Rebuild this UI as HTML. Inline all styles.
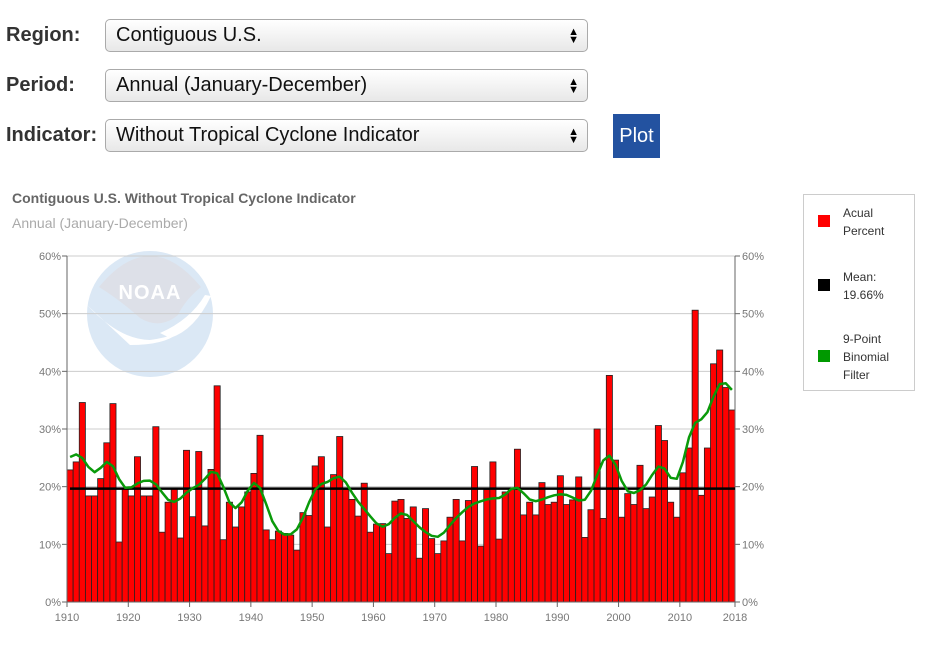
<!DOCTYPE html>
<html><head><meta charset="utf-8"><style>
body{margin:0;width:926px;height:645px;background:#fff;font-family:"Liberation Sans",sans-serif;position:relative;overflow:hidden}
.lab{position:absolute;left:6px;font-size:20px;color:#333;font-weight:bold;letter-spacing:0}
.sel{position:absolute;left:105px;width:481px;height:31px;border:1px solid #aaa;border-radius:5px;background:linear-gradient(#fff,#e8e8e8);font-size:20px;color:#111;line-height:31px;padding-left:10px;box-sizing:border-box;width:483px;height:33px}
.arr{position:absolute;right:8px;top:0;font-size:11px;line-height:8px;padding-top:8px;color:#000}
.btn{position:absolute;left:613px;top:114px;width:47px;height:44px;background:#2352a0;color:#fff;font-size:20px;line-height:44px;text-align:center}
</style></head><body>
<div class="lab" style="top:24px">Region:</div>
<div class="sel" style="top:19px">Contiguous U.S.<div class="arr">▲<br>▼</div></div>
<div class="lab" style="top:74px">Period:</div>
<div class="sel" style="top:69px">Annual (January-December)<div class="arr">▲<br>▼</div></div>
<div class="lab" style="top:124px">Indicator:</div>
<div class="sel" style="top:119px">Without Tropical Cyclone Indicator<div class="arr">▲<br>▼</div></div>
<div class="btn">Plot</div>
<svg id="c" width="926" height="645" style="position:absolute;left:0;top:0" xmlns="http://www.w3.org/2000/svg" font-family="Liberation Sans, sans-serif"></svg>
<script>
var v=[22.9,24.3,34.6,18.4,18.4,21.4,27.6,34.4,10.4,19.7,18.4,25.2,18.4,18.4,30.4,12.1,17.3,19.6,11.1,26.3,14.8,26.1,13.2,23.0,37.5,10.8,17.3,13.0,16.5,19.1,22.3,28.9,12.5,10.8,12.3,11.9,11.6,9.0,15.5,15.0,23.6,25.2,13.0,22.1,28.7,
19.5,17.8,14.9,20.6,12.1,13.5,13.6,8.4,17.5,17.8,14.5,16.5,7.6,16.2,11.0,8.4,10.6,14.7,17.8,10.6,17.6,23.5,9.7,19.5,24.3,10.9,19.1,19.6,26.5,15.1,17.3,
15.1,20.7,16.9,17.3,21.9,16.9,17.7,21.7,11.2,16.0,30.0,14.5,39.3,24.6,14.7,18.8,16.9,23.7,16.2,18.2,30.6,28.0,17.3,14.7,22.4,26.7,50.6,18.5,26.7,41.3,43.7,37.2,33.3];
var L=67,R=735,T=256,B=602,n=v.length,w=(R-L)/n;
function Y(p){return B-p*(B-T)/60}
var s='';
s+='<text x="12" y="203" font-size="14" font-weight="bold" fill="#666">Contiguous U.S. Without Tropical Cyclone Indicator</text>';
s+='<text x="12" y="228" font-size="14" fill="#aaa">Annual (January-December)</text>';
// logo
s+='<circle cx="150" cy="314" r="63" fill="#dbe8f5"/>';
s+='<path d="M99 287 Q150 225 201 287 Q185 300 178 315 Q160 330 140 318 Q120 300 99 287Z" fill="#dde0e8"/>';
s+='<path d="M87 305 Q120 340 150 340 Q165 338 178 333 Q165 345 130 345 Z" fill="#fff"/>';
s+='<path d="M211 296 Q195 330 170 338 L160 333 Q190 320 205 295Z" fill="#fff"/>';
s+='<text x="150" y="299" font-size="20" font-weight="bold" fill="#fff" text-anchor="middle" letter-spacing="1">NOAA</text>';
for(var i=0;i<=6;i++){var y=Y(i*10);
 if(i>0)s+='<line x1="'+L+'" x2="'+R+'" y1="'+y+'" y2="'+y+'" stroke="#ccc"/>';
 s+='<line x1="'+(L-5)+'" x2="'+L+'" y1="'+y+'" y2="'+y+'" stroke="#666"/><line x1="'+R+'" x2="'+(R+5)+'" y1="'+y+'" y2="'+y+'" stroke="#666"/>';
 s+='<text x="61" y="'+(y+4)+'" font-size="11" fill="#777" text-anchor="end">'+i*10+'%</text>';
 s+='<text x="742" y="'+(y+4)+'" font-size="11" fill="#777">'+i*10+'%</text>';}
for(i=0;i<n;i++){var x=L+i*w;s+='<rect x="'+x.toFixed(2)+'" y="'+Y(v[i]).toFixed(1)+'" width="'+w.toFixed(2)+'" height="'+(B-Y(v[i])).toFixed(1)+'" fill="#f00" stroke="#222" stroke-width="0.8"/>';}
s+='<line x1="'+L+'" x2="'+L+'" y1="'+T+'" y2="'+B+'" stroke="#666"/><line x1="'+R+'" x2="'+R+'" y1="'+T+'" y2="'+B+'" stroke="#666"/><line x1="'+L+'" x2="'+R+'" y1="'+B+'" y2="'+B+'" stroke="#666"/>';
for(var yr=1910;yr<=2018;yr+=10){var x=L+(yr-1910)*w;if(yr>2010)break;s+='<line x1="'+x+'" x2="'+x+'" y1="'+B+'" y2="'+(B+5)+'" stroke="#666"/><text x="'+x+'" y="621" font-size="11" fill="#777" text-anchor="middle">'+yr+'</text>';}
s+='<line x1="'+R+'" x2="'+R+'" y1="'+B+'" y2="'+(B+5)+'" stroke="#666"/><text x="'+R+'" y="621" font-size="11" fill="#777" text-anchor="middle">2018</text>';
s+='<line x1="70" x2="'+R+'" y1="'+Y(19.66)+'" y2="'+Y(19.66)+'" stroke="#000" stroke-width="2.5"/>';
var wt=[1,8,28,56,70,56,28,8,1],pts=[];
for(i=0;i<n;i++){var a=0,b=0;for(var k=-4;k<=4;k++){var j=i+k;if(j<0||j>=n)continue;a+=wt[k+4]*v[j];b+=wt[k+4];}pts.push((L+i*w+w/2).toFixed(1)+','+Y(a/b).toFixed(1));}
s+='<polyline points="'+pts.join(' ')+'" fill="none" stroke="#0a9a0a" stroke-width="2.5" stroke-linejoin="round"/>';
// legend
s+='<rect x="803.5" y="194.5" width="111" height="196" fill="#fff" stroke="#ccc"/>';
s+='<rect x="818" y="215" width="12" height="12" fill="#f00"/><text x="843" y="217" font-size="12" fill="#333">Acual</text><text x="843" y="235" font-size="12" fill="#333">Percent</text>';
s+='<rect x="818" y="279" width="12" height="12" fill="#000"/><text x="843" y="281" font-size="12" fill="#333">Mean:</text><text x="843" y="299" font-size="12" fill="#333">19.66%</text>';
s+='<rect x="818" y="350" width="12" height="12" fill="#090"/><text x="843" y="343" font-size="12" fill="#333">9-Point</text><text x="843" y="361" font-size="12" fill="#333">Binomial</text><text x="843" y="379" font-size="12" fill="#333">Filter</text>';
document.getElementById('c').innerHTML=s;
</script>
</body></html>
